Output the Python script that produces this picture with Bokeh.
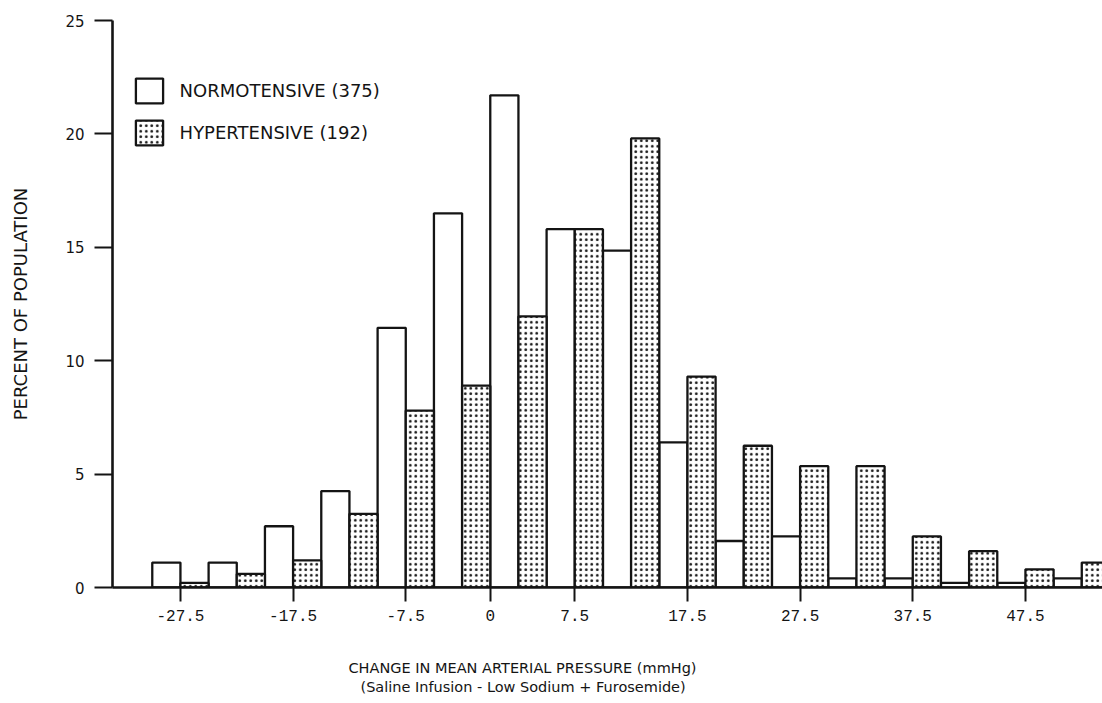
from bokeh.plotting import figure
from bokeh.models import Range1d, FixedTicker, Legend, LegendItem, ColumnDataSource, Title
from bokeh.embed import file_html
from bokeh.resources import INLINE

# Histogram bins of 5 mmHg; each bin holds a normotensive bar (left half)
# and a hypertensive bar (right half).
bin_starts = [-30, -25, -20, -15, -10, -5, 0, 5, 10, 15, 20, 25, 30, 35, 40, 45, 50]
normotensive = [1.1, 1.1, 2.7, 4.25, 11.45, 16.5, 21.7, 15.8, 14.85, 6.4,
                2.05, 2.25, 0.4, 0.4, 0.2, 0.2, 0.4]
hypertensive = [0.2, 0.6, 1.2, 3.25, 7.8, 8.9, 11.95, 15.8, 19.8, 9.3,
                6.25, 5.35, 5.35, 2.25, 1.6, 0.8, 1.1]
bin_width = 5

x_ticks = [-27.5, -17.5, -7.5, 0, 7.5, 17.5, 27.5, 37.5, 47.5]
y_ticks = [0, 5, 10, 15, 20, 25]

label_normo = "NORMOTENSIVE (375)"
label_hyper = "HYPERTENSIVE (192)"
x_title_1 = "CHANGE IN MEAN ARTERIAL PRESSURE (mmHg)"
x_title_2 = "(Saline Infusion - Low Sodium + Furosemide)"
y_title = "PERCENT OF POPULATION"

INK = "#141414"
SANS = "DejaVu Sans"
MONO = "Liberation Mono"

half = bin_width / 2
normo_src = ColumnDataSource(dict(
    left=[b for b in bin_starts],
    right=[b + half for b in bin_starts],
    top=normotensive,
    bottom=[0] * len(bin_starts),
))
hyper_src = ColumnDataSource(dict(
    left=[b + half for b in bin_starts],
    right=[b + bin_width for b in bin_starts],
    top=hypertensive,
    bottom=[0] * len(bin_starts),
))

p = figure(
    width=1102, height=703,
    output_backend="svg", toolbar_location=None,
    x_range=Range1d(-33.53, 54.34), y_range=Range1d(0, 25),
    min_border_left=112, min_border_right=0,
    min_border_top=20, min_border_bottom=116,
)
p.outline_line_color = None
p.grid.visible = False
p.background_fill_color = "white"
p.border_fill_color = "white"

r_normo = p.quad(left="left", right="right", top="top", bottom="bottom",
                 source=normo_src, fill_color="white",
                 line_color=INK, line_width=2.3)
r_hyper = p.quad(left="left", right="right", top="top", bottom="bottom",
                 source=hyper_src, fill_color="white",
                 hatch_pattern="dot", hatch_color=INK, hatch_scale=5.5,
                 hatch_weight=1.6,
                 line_color=INK, line_width=2.3)

# axes
xa = p.xaxis[0]
xa.ticker = FixedTicker(ticks=x_ticks)
xa.major_label_overrides = {t: ("0" if t == 0 else f"{t:.1f}") for t in x_ticks}
xa.axis_line_width = 2.6
xa.axis_line_color = INK
xa.major_tick_line_width = 2
xa.major_tick_line_color = INK
xa.major_tick_in = 0
xa.major_tick_out = 14
xa.minor_tick_line_color = None
xa.major_label_standoff = 8
xa.major_label_text_font = MONO
xa.major_label_text_font_size = "16px"
xa.major_label_text_color = INK

ya = p.yaxis[0]
ya.ticker = FixedTicker(ticks=y_ticks)
ya.axis_line_width = 2.6
ya.axis_line_color = INK
ya.major_tick_line_width = 2
ya.major_tick_line_color = INK
ya.major_tick_in = 0
ya.major_tick_out = 18
ya.minor_tick_line_color = None
ya.major_label_standoff = 10
ya.major_label_text_font = SANS
ya.major_label_text_font_size = "15px"
ya.major_label_text_color = INK
ya.axis_label = y_title
ya.axis_label_text_font = SANS
ya.axis_label_text_font_size = "18px"
ya.axis_label_text_font_style = "normal"
ya.axis_label_text_color = INK
ya.axis_label_standoff = 31

# legend
legend = Legend(
    items=[LegendItem(label=label_normo, renderers=[r_normo]),
           LegendItem(label=label_hyper, renderers=[r_hyper])],
    location=(19.6, 439),
    glyph_width=34, glyph_height=31, label_height=31,
    spacing=11, label_standoff=14, padding=0, margin=0,
    border_line_color=None, background_fill_alpha=0,
    label_text_font=SANS, label_text_font_size="18px",
    label_text_color=INK,
)
p.add_layout(legend)

# two-line x title: a blank gap below the tick labels, then the two lines
p.add_layout(Title(text=" ", standoff=31, text_font_size="1px"), "below")
for text, offset, standoff in ((x_title_1, 236, 0), (x_title_2, 248, 3)):
    p.add_layout(Title(text=text, align="left", offset=offset, standoff=standoff,
                       text_font=SANS, text_font_size="14.5px",
                       text_font_style="normal", text_color=INK), "below")

open("out.html", "w").write(file_html(p, INLINE))
